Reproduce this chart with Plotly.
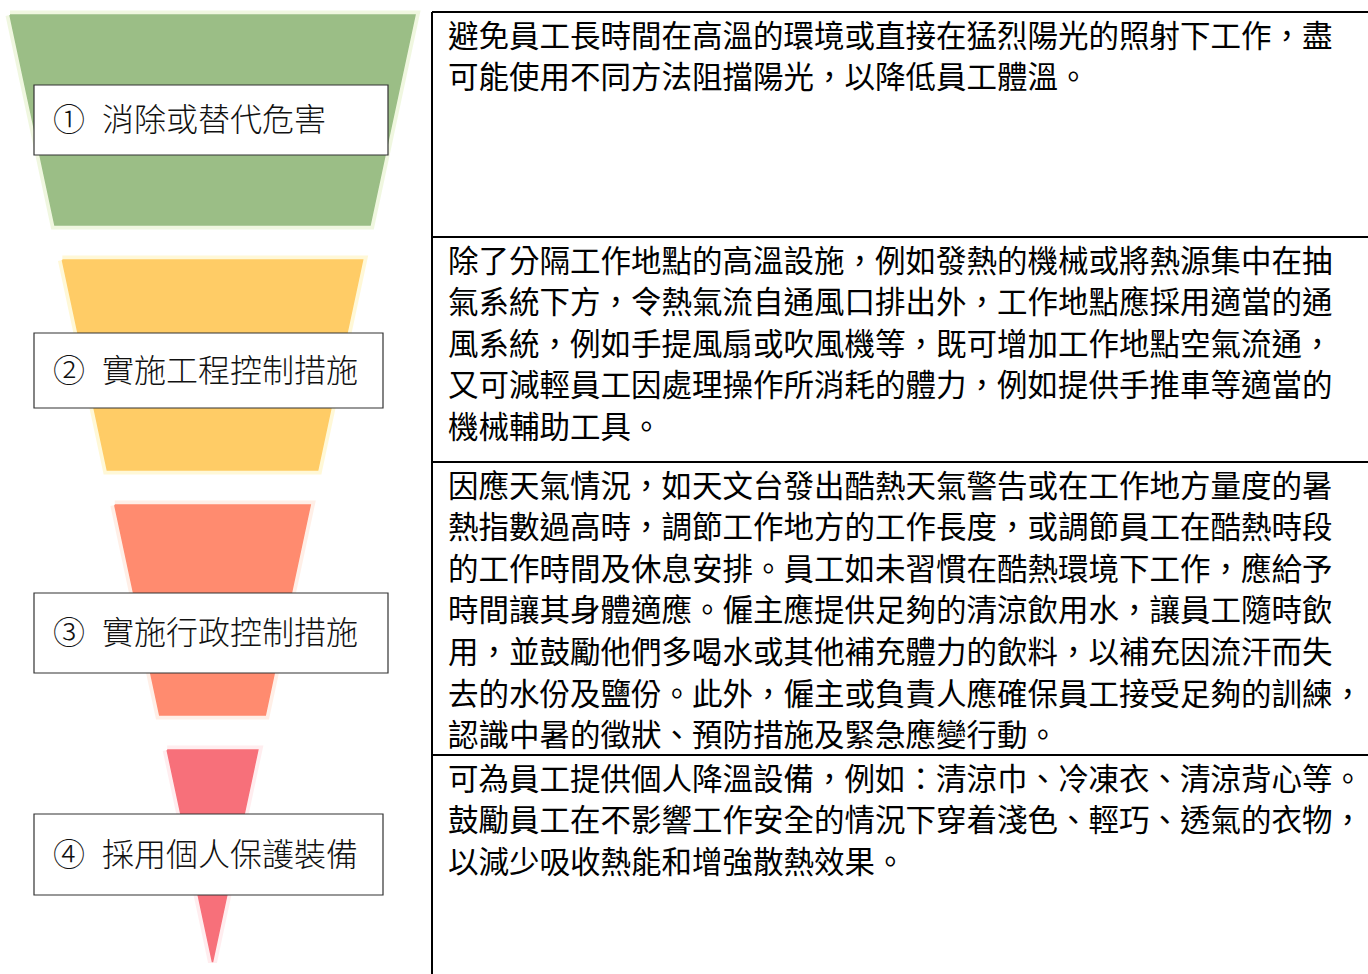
import plotly.graph_objects as go

# ---------------- data ----------------
level_numbers = ["①", "②", "③", "④"]
level_names = ["消除或替代危害", "實施工程控制措施", "實施行政控制措施", "採用個人保護裝備"]
band_colors = ["#9BBE86", "#FFCC66", "#FF8B6F", "#F7707A"]
glow_colors = ["#E4F2C8", "#FFF3B8", "#FFE3D4", "#FFE0E2"]

descriptions = [
    ["避免員工長時間在高溫的環境或直接在猛烈陽光的照射下工作，盡",
     "可能使用不同方法阻擋陽光，以降低員工體溫。"],
    ["除了分隔工作地點的高溫設施，例如發熱的機械或將熱源集中在抽",
     "氣系統下方，令熱氣流自通風口排出外，工作地點應採用適當的通",
     "風系統，例如手提風扇或吹風機等，既可增加工作地點空氣流通，",
     "又可減輕員工因處理操作所消耗的體力，例如提供手推車等適當的",
     "機械輔助工具。"],
    ["因應天氣情況，如天文台發出酷熱天氣警告或在工作地方量度的暑",
     "熱指數過高時，調節工作地方的工作長度，或調節員工在酷熱時段",
     "的工作時間及休息安排。員工如未習慣在酷熱環境下工作，應給予",
     "時間讓其身體適應。僱主應提供足夠的清涼飲用水，讓員工隨時飲",
     "用，並鼓勵他們多喝水或其他補充體力的飲料，以補充因流汗而失",
     "去的水份及鹽份。此外，僱主或負責人應確保員工接受足夠的訓練，",
     "認識中暑的徵狀、預防措施及緊急應變行動。"],
    ["可為員工提供個人降溫設備，例如：清涼巾、冷凍衣、清涼背心等。",
     "鼓勵員工在不影響工作安全的情況下穿着淺色、輕巧、透氣的衣物，",
     "以減少吸收熱能和增強散熱效果。"],
]

# ---------------- layout constants (pixels) ----------------
W, H = 1368, 974
FONT = "Noto Sans CJK TC"

funnel_cx, funnel_top, funnel_apex, funnel_half_top = 212.5, 15, 962, 202.5
band_spans = [(15, 225), (260, 470), (505, 715), (750, 962)]

box_x0 = 34
box_x1 = [388, 383, 388, 383]
box_ys = [(85, 155), (333, 408), (593, 673), (814, 895)]

table_x = 432
row_tops = [12, 237, 462, 755]
text_x = 446
first_line_offset = 21.5
line_h = 41.6


def half_width(y):
    return funnel_half_top * (funnel_apex - y) / (funnel_apex - funnel_top)


fig = go.Figure()

for (y0, y1), col, glow in zip(band_spans, band_colors, glow_colors):
    hw0, hw1 = half_width(y0), half_width(y1)
    xs = [funnel_cx - hw0, funnel_cx + hw0, funnel_cx + hw1, funnel_cx - hw1, funnel_cx - hw0]
    ys = [y0, y0, y1, y1, y0]
    # soft glow
    fig.add_trace(go.Scatter(x=xs, y=ys, mode="lines", fill="toself",
                             fillcolor=glow, line=dict(color=glow, width=9),
                             opacity=0.55, hoverinfo="skip", showlegend=False))
    fig.add_trace(go.Scatter(x=xs, y=ys, mode="lines", fill="toself",
                             fillcolor=col, line=dict(color=col, width=1.5),
                             hoverinfo="skip", showlegend=False))

shapes = []
annotations = []

# label boxes
for i, (num, name) in enumerate(zip(level_numbers, level_names)):
    y0, y1 = box_ys[i]
    shapes.append(dict(type="rect", xref="x", yref="y", x0=box_x0, x1=box_x1[i],
                       y0=y0, y1=y1, fillcolor="white",
                       line=dict(color="#333333", width=1.2), layer="above"))
    yc = (y0 + y1) / 2 - 3
    annotations.append(dict(x=51, y=yc, xref="x", yref="y", text=num, showarrow=False,
                            xanchor="left", yanchor="middle",
                            font=dict(family=FONT, size=32, color="#111111", weight=300)))
    annotations.append(dict(x=100, y=yc, xref="x", yref="y", text=name, showarrow=False,
                            xanchor="left", yanchor="middle",
                            font=dict(family=FONT, size=32, color="#111111", weight=300)))

# table lines
shapes.append(dict(type="line", xref="x", yref="y", x0=table_x, x1=table_x, y0=row_tops[0], y1=H,
                   line=dict(color="black", width=2)))
for yt in row_tops:
    shapes.append(dict(type="line", xref="x", yref="y", x0=table_x, x1=W, y0=yt, y1=yt,
                       line=dict(color="black", width=2)))

# description text
for yt, lines in zip(row_tops, descriptions):
    for j, line in enumerate(lines):
        annotations.append(dict(x=text_x, y=yt + first_line_offset + j * line_h,
                                xref="x", yref="y", text=line, showarrow=False,
                                xanchor="left", yanchor="middle",
                                font=dict(family=FONT, size=30.5, color="black")))

fig.update_layout(
    width=W, height=H, margin=dict(l=0, r=0, t=0, b=0),
    paper_bgcolor="white", plot_bgcolor="white",
    xaxis=dict(range=[0, W], visible=False, fixedrange=True),
    yaxis=dict(range=[H, 0], visible=False, fixedrange=True),
    shapes=shapes, annotations=annotations, showlegend=False,
)

fig.write_html("out.html", config={"displayModeBar": False},
               post_script="document.body.style.margin='0';document.body.style.overflow='hidden';")
